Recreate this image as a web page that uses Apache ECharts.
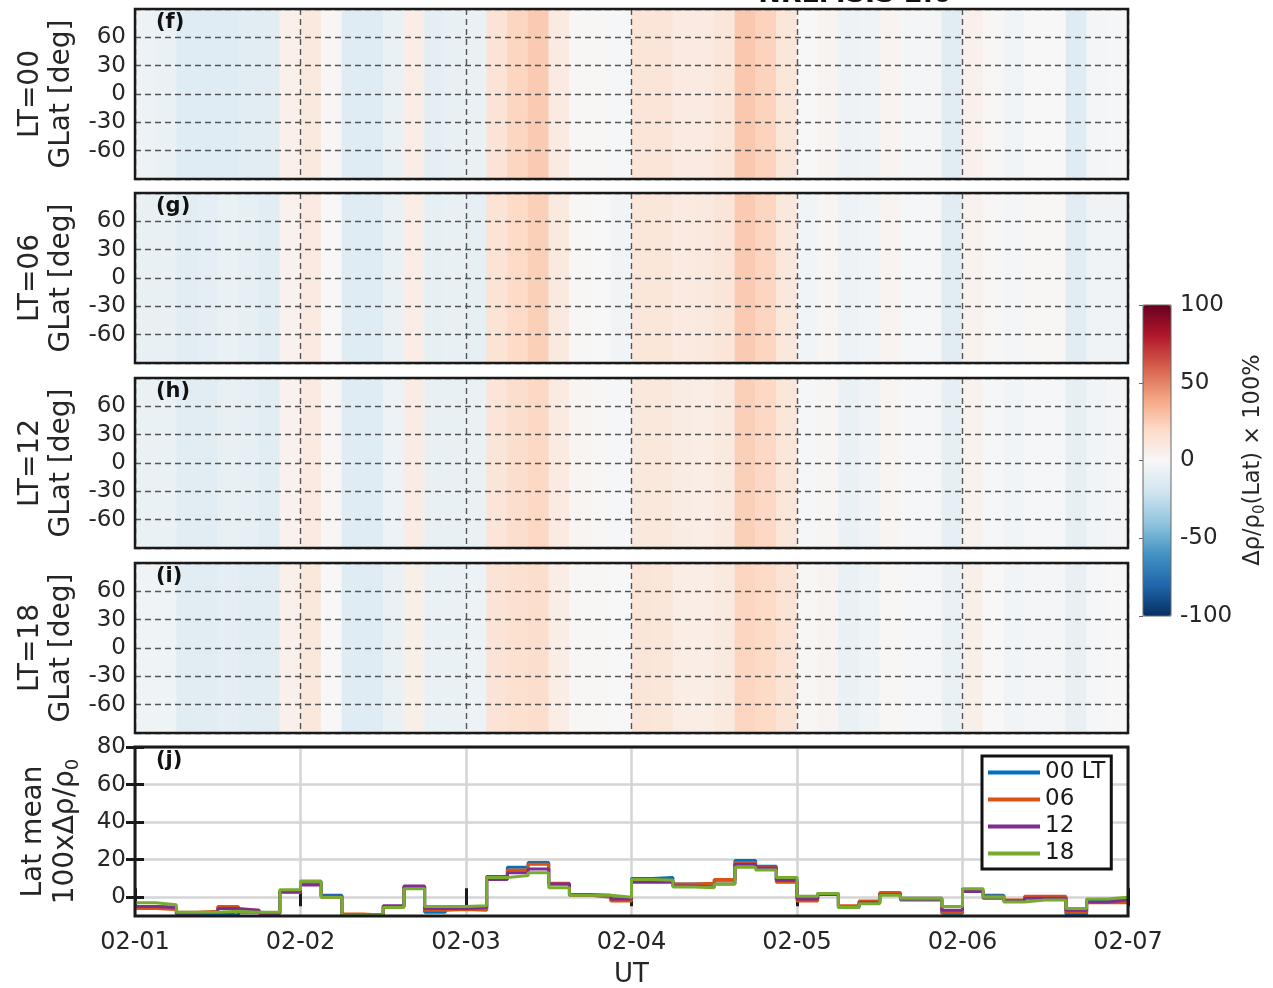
<!DOCTYPE html>
<html>
<head>
<meta charset="utf-8">
<script src="https://cdn.jsdelivr.net/npm/echarts@6/dist/echarts.min.js"></script>
<style>
  html, body { margin: 0; padding: 0; background: #ffffff; }
  #chart { width: 1273px; height: 988px; }
</style>
</head>
<body>
<div id="chart"></div>
<script>
// Day boundaries along the UT axis (hours 0..144)
const dayLabels = ['02-01', '02-02', '02-03', '02-04', '02-05', '02-06', '02-07'];
const panelTags = ['(f)', '(g)', '(h)', '(i)', '(j)'];
const panelNames = ['LT=00', 'LT=06', 'LT=12', 'LT=18'];
const seriesNames = ['00 LT', '06', '12', '18'];
const lineTicks = [0, 20, 40, 60, 80];
const binHours = 3;

// Density change (%) in 3-hour UT bins, shaded in the latitude maps (f)-(i)
const map00 = [-6, -7, -12, -12, -12, -11, -11, 5, 10, 1, -12, -12, -7, 7, -10, -8,
               -7, 14, 22, 26, 9, 1, 1, -1, 13, 13, 9, 9, 12, 27, 23, 12,
               0, 3, -6, -4, 3, -2, -2, -11, 5, 1, -3, 0, 0, -12, -2, -1];
const map06 = [-8, -8, -11, -10, -7, -9, -11, 4, 9, 0, -12, -12, -7, 7, -9, -8,
               -9, 14, 20, 24, 10, 1, 0, -3, 12, 12, 9, 10, 13, 26, 22, 11,
               -3, 2, -6, -3, 3, -1, -1, -11, 4, 1, -2, 1, 1, -11, -4, -4];
const map12 = [-7, -7, -11, -11, -8, -9, -11, 4, 9, 1, -12, -12, -6, 8, -8, -8,
               -7, 13, 18, 21, 9, 2, 1, -1, 11, 11, 8, 7, 10, 24, 21, 12,
               -1, 2, -7, -4, 2, -1, -1, -9, 4, -1, -3, -1, -1, -9, -3, -2];
const map18 = [-4, -5, -11, -11, -10, -11, -11, 5, 11, 0, -12, -12, -7, 6, -7, -7,
               -6, 14, 16, 18, 7, 1, 1, 0, 13, 12, 7, 7, 10, 22, 20, 14,
               1, 3, -7, -5, 1, -1, -1, -7, 6, 0, -3, -2, -2, -8, -1, 0];
const mapSeries = [map00, map06, map12, map18];

// Latitude-mean density change (100 x Δρ/ρ0) per 3-hour bin, panel (j)
const lt00 = [-5, -5.5, -9, -8.5, -9.5, -8, -8.5, 3, 8.5, 1, -9.5, -9.5, -5, 5.5, -8, -6.5,
              -6, 11, 16, 18.5, 7, 1, 0.5, -1, 10, 10.5, 7, 7, 9, 19.5, 16.5, 9.5,
              0, 2, -5, -3, 2, -1.5, -1.5, -8.5, 3.5, 1, -2, 0, 0, -9, -1.5, -1];
const lt06 = [-6, -6.5, -8, -7.5, -5, -7, -8.5, 2.5, 7, 0, -9, -9.5, -5, 5.5, -7, -6.5,
              -7, 10.5, 14.5, 17.5, 7.5, 1, 0, -2, 9, 9, 7, 7.5, 9.5, 18.5, 16, 8,
              -2, 1.5, -4.5, -2, 2.5, -1, -1, -8, 3, 0.5, -1.5, 0.5, 0.5, -8, -3, -3];
const lt12 = [-5, -5.5, -8.5, -8, -6, -7, -8.5, 3, 6.5, 0.5, -9.5, -9.5, -4.5, 6, -6, -6,
              -5.5, 9.5, 13, 15, 7, 1.5, 1, -1, 8, 8, 6, 5.5, 7, 17.5, 15.5, 9,
              -1, 1.5, -5.5, -3, 1.5, -0.5, -0.5, -7, 3, -0.5, -2, -0.5, -0.5, -7, -2.5, -1.5];
const lt18 = [-3, -4, -8, -8, -7.5, -8, -8, 4, 8.5, 0, -9.5, -9.5, -5.5, 4.5, -5, -5,
              -4.5, 10.5, 11.5, 13, 5, 1, 1, 0, 9.5, 9, 5.5, 5, 7, 16, 14.5, 10.5,
              0.5, 2, -5.5, -3.5, 1, -0.5, -0.5, -5, 4.5, 0, -2.5, -1.5, -1.5, -6, -1, 0];
const ltSeries = [lt00, lt06, lt12, lt18];

// Styling
const FONT = 'DejaVu Sans';
const ltColors = ['#0072bd', '#d95319', '#7e2f8e', '#77ac30'];
const rdbu = ['#053061', '#2166ac', '#4393c3', '#92c5de', '#d1e5f0', '#f7f7f7',
              '#fddbc7', '#f4a582', '#d6604d', '#b2182b', '#67001f'];
const LEFT = 135, RIGHT = 1273 - 1128;
const mapTops = [9, 193, 378, 563];
const MAP_H = 170;
const LINE_TOP = 747, LINE_H = 169;

const grids = [], xAxes = [], yAxes = [], series = [];
const tickFont = { fontFamily: FONT, fontSize: 23, color: '#262626' };
const nameFont = { fontFamily: FONT, fontSize: 28, color: '#262626', lineHeight: 31 };
const binCats = mapSeries[0].map((_, i) => String(i * binHours));

mapTops.forEach((top, k) => {
  grids.push({ left: LEFT, right: RIGHT, top: top, height: MAP_H, show: true, outerBoundsMode: 'none',
               borderColor: '#1a1a1a', borderWidth: 2.5, z: 12 });
  // visible value axes carrying the dashed grid
  xAxes.push({ type: 'value', gridIndex: k, min: 0, max: 144, interval: 24, position: 'bottom',
               axisLabel: { show: false }, axisTick: { show: false }, axisLine: { show: false },
               splitLine: { show: true, lineStyle: { color: '#555', width: 1.4, type: [6, 4] } }, z: 10 });
  yAxes.push({ type: 'value', gridIndex: k, min: -90, max: 90, interval: 30, position: 'left',
               axisLabel: Object.assign({ margin: 9, showMinLabel: false, showMaxLabel: false }, tickFont),
               axisTick: { show: false }, axisLine: { show: false },
               splitLine: { show: true, lineStyle: { color: '#555', width: 1.4, type: [6, 4] } },
               name: panelNames[k] + '\nGLat [deg]', nameLocation: 'middle', nameRotate: 90, nameGap: 53,
               nameTextStyle: nameFont, z: 10 });
  // category axes that place the heatmap cells
  const xi = xAxes.length, yi = yAxes.length;
  xAxes.push({ type: 'category', gridIndex: k, data: binCats, show: false, position: 'top' });
  yAxes.push({ type: 'category', gridIndex: k, data: ['lat'], show: false, position: 'right' });
  series.push({
    type: 'heatmap', xAxisIndex: xi, yAxisIndex: yi, z: 1,
    data: mapSeries[k].map((v, i) => [i, 0, v]),
    emphasis: { disabled: true }, silent: true
  });
});

// Line panel (j)
const gj = grids.length;
grids.push({ left: LEFT, right: RIGHT, top: LINE_TOP, height: LINE_H, show: true, outerBoundsMode: 'none',
             borderColor: '#1a1a1a', borderWidth: 3, z: 12 });
const xj = xAxes.length;
xAxes.push({ type: 'value', gridIndex: gj, min: 0, max: 144, interval: 24, position: 'bottom',
             axisLabel: Object.assign({}, tickFont, { fontSize: 24, margin: 15,
                                      formatter: v => dayLabels[Math.round(v / 24)] }),
             axisTick: { show: true, inside: true, length: 9, lineStyle: { color: '#1a1a1a', width: 3 } },
             axisLine: { show: false },
             splitLine: { show: true, lineStyle: { color: '#d4d4d4', width: 2.5 } },
             name: 'UT', nameLocation: 'middle', nameGap: 44,
             nameTextStyle: Object.assign({}, nameFont, { fontSize: 26 }) });
xAxes.push({ type: 'value', gridIndex: gj, min: 0, max: 144, interval: 24, position: 'top',
             axisLabel: { show: false }, axisLine: { show: false }, splitLine: { show: false },
             axisTick: { show: true, inside: true, length: 9, lineStyle: { color: '#1a1a1a', width: 3 } } });
const yj = yAxes.length;
yAxes.push({ type: 'value', gridIndex: gj, min: -10, max: 80, position: 'left',
             axisLabel: Object.assign({ margin: 9, customValues: lineTicks }, tickFont),
             axisTick: { show: true, inside: true, length: 9, customValues: lineTicks,
                         lineStyle: { color: '#1a1a1a', width: 3 } },
             axisLine: { show: false },
             splitLine: { show: true, lineStyle: { color: '#d4d4d4', width: 2.5 } },
             name: '{a|Lat mean}\n{a|100xΔρ/ρ}{s|0}', nameLocation: 'middle', nameRotate: 90, nameGap: 53,
             nameTextStyle: { fontFamily: FONT, fontSize: 28, color: '#262626',
               rich: { a: { fontFamily: FONT, fontSize: 28, color: '#262626', lineHeight: 32 },
                       s: { fontFamily: FONT, fontSize: 18, color: '#262626', lineHeight: 32, verticalAlign: 'bottom' } } } });
yAxes.push({ type: 'value', gridIndex: gj, min: -10, max: 80, position: 'right',
             axisLabel: { show: false }, axisLine: { show: false }, splitLine: { show: false },
             axisTick: { show: true, inside: true, length: 9, customValues: lineTicks,
                         lineStyle: { color: '#1a1a1a', width: 3 } } });

ltSeries.forEach((vals, k) => {
  const pts = vals.map((v, i) => [i * binHours, v]);
  pts.push([vals.length * binHours, vals[vals.length - 1]]);
  series.push({
    type: 'line', name: seriesNames[k], xAxisIndex: xj, yAxisIndex: yj,
    step: 'end', data: pts, showSymbol: false, symbol: 'none', clip: true,
    lineStyle: { color: ltColors[k], width: 3 }, itemStyle: { color: ltColors[k] },
    z: 3 + k, silent: true
  });
});

// Colorbar scale axis
const gc = grids.length;
grids.push({ left: 1143, top: 305, width: 28, height: 311, show: true, outerBoundsMode: 'none',
             borderColor: '#666', borderWidth: 1, z: 12 });
xAxes.push({ type: 'value', gridIndex: gc, show: false, min: 0, max: 1 });
yAxes.push({ type: 'value', gridIndex: gc, min: -100, max: 100, interval: 50, position: 'right',
             axisLabel: Object.assign({ margin: 9 }, tickFont),
             axisTick: { show: true, inside: true, length: 4, lineStyle: { color: '#666', width: 1 } },
             axisLine: { show: false }, splitLine: { show: false } });

const graphics = panelTags.map((t, k) => ({
  type: 'text', left: 156, top: (k < 4 ? mapTops[k] : LINE_TOP) + 3, z: 100,
  style: { text: t, font: 'bold 21px "DejaVu Sans"', fill: '#111' }
}));
graphics.push({
  type: 'text', x: 1253, y: 460, rotation: Math.PI / 2, z: 100,
  style: { text: '{a|Δρ/ρ}{s|0}{a|(Lat) × 100%}', align: 'center', verticalAlign: 'middle',
           rich: { a: { fontFamily: FONT, fontSize: 22.5, fill: '#262626', lineHeight: 30 },
                   s: { fontFamily: FONT, fontSize: 15, fill: '#262626', lineHeight: 30, verticalAlign: 'bottom' } } }
});
graphics.push({
  type: 'text', x: 855, y: 8, z: 100,
  style: { text: 'NRLMSIS 2.0', align: 'center', verticalAlign: 'bottom',
           font: 'bold 27px "DejaVu Sans"', fill: '#111' }
});

const chart = echarts.init(document.getElementById('chart'), null, { renderer: 'canvas' });
chart.setOption({
  animation: false,
  backgroundColor: '#ffffff',
  textStyle: { fontFamily: FONT },
  grid: grids,
  xAxis: xAxes,
  yAxis: yAxes,
  visualMap: {
    type: 'continuous', min: -100, max: 100, seriesIndex: [0, 1, 2, 3],
    calculable: false, show: true, left: 1143, top: 305, itemWidth: 28, itemHeight: 311,
    padding: 0, text: null, showLabel: false, hoverLink: false,
    inRange: { color: rdbu }
  },
  legend: {
    data: seriesNames, orient: 'vertical', left: 982, top: 756,
    backgroundColor: '#ffffff', borderColor: '#111', borderWidth: 3, borderRadius: 0,
    padding: [5, 6, 4, 6], itemWidth: 52, itemHeight: 4, itemGap: 4, icon: 'rect',
    textStyle: { fontFamily: FONT, fontSize: 23, color: '#1a1a1a' }, z: 50
  },
  graphic: graphics,
  series: series
});
</script>
</body>
</html>
